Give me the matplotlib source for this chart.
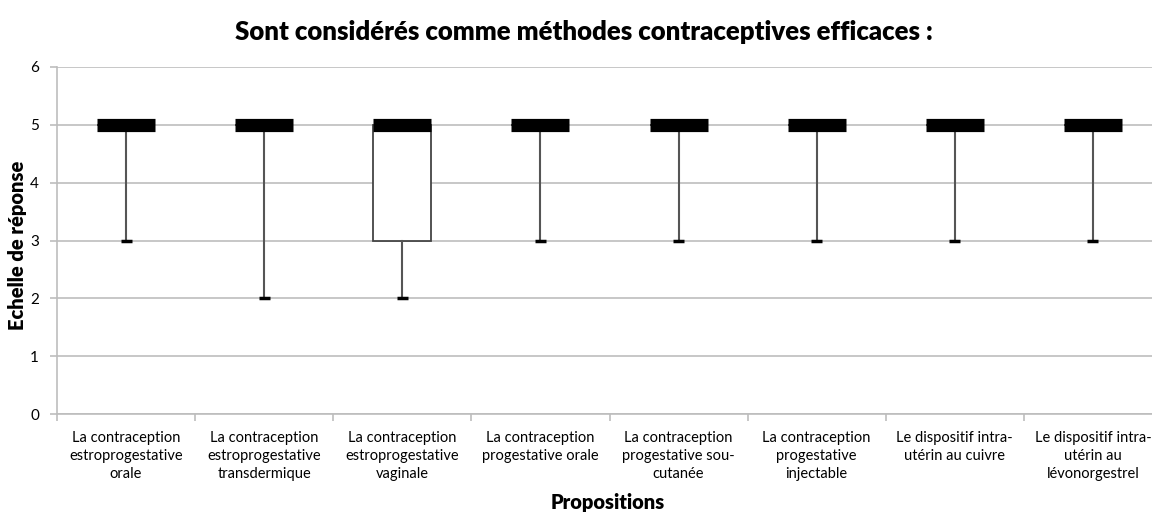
import numpy as np
import matplotlib
matplotlib.use('Agg')
import matplotlib.pyplot as plt

plt.rcParams['font.family'] = ['Lato', 'DejaVu Sans']

# categories and box statistics
categories = [
    'La contraception\nestroprogestative\norale',
    'La contraception\nestroprogestative\ntransdermique',
    'La contraception\nestroprogestative\nvaginale',
    'La contraception\nprogestative orale',
    'La contraception\nprogestative sou-\ncutanée',
    'La contraception\nprogestative\ninjectable',
    'Le dispositif intra-\nutérin au cuivre',
    'Le dispositif intra-\nutérin au\nlévonorgestrel',
]
whisker_low = [3, 2, 2, 3, 3, 3, 3, 3]
q1 = [5, 5, 3, 5, 5, 5, 5, 5]
medians = [5, 5, 5, 5, 5, 5, 5, 5]
q3 = [5, 5, 5, 5, 5, 5, 5, 5]
whisker_high = [5, 5, 5, 5, 5, 5, 5, 5]

stats = []
for i in range(len(categories)):
    stats.append({'whislo': whisker_low[i], 'q1': q1[i], 'med': medians[i],
                  'q3': q3[i], 'whishi': whisker_high[i], 'fliers': []})

W, H = 1152, 514
fig = plt.figure(figsize=(W / 100, H / 100), dpi=100)
ax = fig.add_axes([57 / W, 1 - 414 / H, (1162 - 57) / W, (414 - 67) / H])

pos = np.arange(len(categories))
ax.bxp(stats, positions=pos, widths=0.42, capwidths=0.08, patch_artist=True,
       boxprops=dict(facecolor='white', edgecolor='#444444', linewidth=1.3),
       whiskerprops=dict(color='#555555', linewidth=1.5),
       capprops=dict(color='black', linewidth=2.5, solid_capstyle='butt'),
       medianprops=dict(color='black', linewidth=9.5, solid_capstyle='butt'),
       zorder=3)

ax.set_xlim(-0.5, len(categories) - 0.5)
ax.set_ylim(0, 6)
ax.set_yticks(range(0, 7))
ax.yaxis.grid(True, color='#bdbdbd', linewidth=1.2)
ax.set_axisbelow(True)

ax.set_xticks(pos)
ax.set_xticklabels(categories, fontsize=10.5, linespacing=1.4)
ax.tick_params(axis='x', length=0, pad=12)
ax.set_xticks(np.arange(len(categories) + 1) - 0.5, minor=True)
ax.tick_params(axis='x', which='minor', length=5, color='#bdbdbd', width=1.2)
ax.tick_params(axis='y', length=5, color='#bdbdbd', width=1.2, labelsize=11, pad=8)

for s in ['top', 'right']:
    ax.spines[s].set_visible(False)
for s in ['left', 'bottom']:
    ax.spines[s].set_color('#bdbdbd')
    ax.spines[s].set_linewidth(1.2)

fig.text(18 / W, 1 - 245 / H, 'Echelle de réponse', fontsize=14.5, fontweight='heavy',
         rotation=90, ha='center', va='center')
fig.text(608 / W, 1 - 503 / H, 'Propositions', fontsize=14.5, fontweight='heavy',
         ha='center', va='center')
fig.text(584 / W, 1 - 32 / H, 'Sont considérés comme méthodes contraceptives efficaces :',
         fontsize=18.5, fontweight='heavy', ha='center', va='center')

fig.savefig('out.png', dpi=100)
